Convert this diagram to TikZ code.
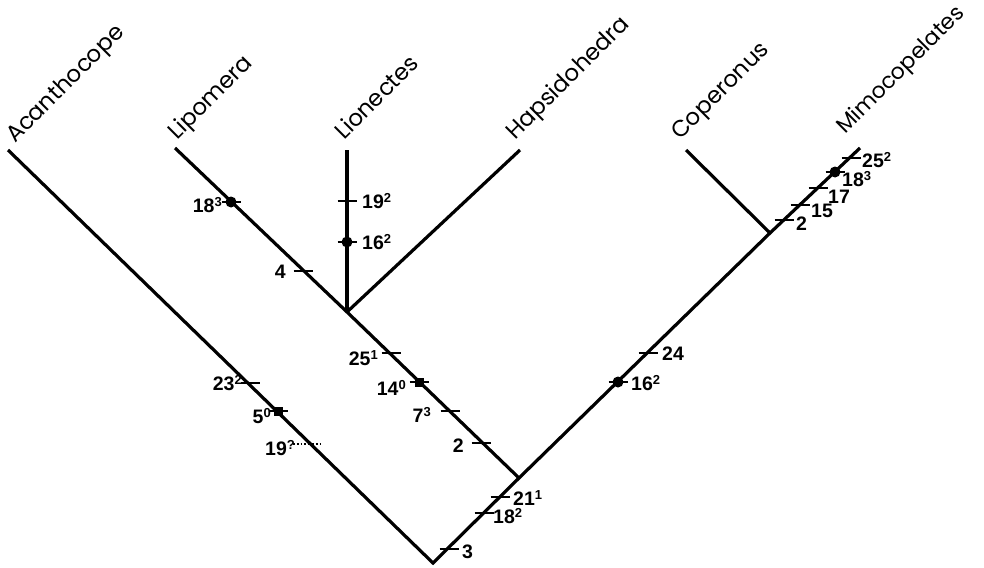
\documentclass[tikz,border=0pt]{standalone}
\usepackage{fontspec}
\setmainfont{Liberation Sans}
\newfontfamily\taxfont{Poppins}
\newcommand\sps[1]{\raisebox{5.5pt}{\fontsize{13}{13}\selectfont #1}}
\begin{document}
\begin{tikzpicture}[x=1pt,y=-1pt,
  branch/.style={line width=3.2pt},
  tickmark/.style={line width=1.8pt},
  taxon/.style={font=\taxfont\fontsize{23}{23}\selectfont,rotate=45,anchor=base west,inner sep=0pt},
  chr/.style={font=\bfseries\fontsize{19.5}{19.5}\selectfont,inner sep=0pt},
  sqmark/.style={fill=black,minimum size=9pt,inner sep=0pt,draw=none},
  dotmark/.style={circle,fill=black,minimum size=11pt,inner sep=0pt,draw=none}]
\useasboundingbox (0,0) rectangle (984,567);
% tree nodes
\coordinate (root) at (433,563);
\coordinate (n1) at (519,478);
\coordinate (n2) at (347,312);
\coordinate (n3) at (770,233);
\coordinate (aca) at (8,150);
\coordinate (lip) at (175,148);
\coordinate (lio) at (347,150);
\coordinate (hap) at (520,150);
\coordinate (cop) at (686,150);
\coordinate (mim) at (860,148);
% branches
\draw[branch] (aca) -- (root) -- (n1) -- (n3) -- (mim);
\draw[branch] (n1) -- (n2) -- (lip);
\draw[branch] (n2) -- (lio);
\draw[branch] (n2) -- (hap);
\draw[branch] (n3) -- (cop);
% taxon labels
\node[taxon] (tAca) at (15,144) {Acanthocope};
\node[taxon] (tLip) at (177,141) {Lipomera};
\node[taxon] (tLio) at (344,141) {Lionectes};
\node[taxon] (tHap) at (515,141) {Hapsidohedra};
\node[taxon] (tCop) at (680,141) {Coperonus};
\node[taxon,font=\taxfont\fontsize{22}{22}\selectfont] (tMim) at (845,135) {Mimocopelates};
% tick centres
\coordinate (c23) at (250,383);
\coordinate (c5) at (278,411);
\coordinate (c19a) at (308,444);
\coordinate (c18a) at (231,202);
\coordinate (c4) at (303,271);
\coordinate (c19b) at (347,201);
\coordinate (c16a) at (347,242);
\coordinate (c25a) at (391,353);
\coordinate (c14) at (419,382);
\coordinate (c7) at (450,411);
\coordinate (c2a) at (481,443);
\coordinate (c3) at (449,549);
\coordinate (c18b) at (484,513);
\coordinate (c21) at (500,497);
\coordinate (c16b) at (618,382);
\coordinate (c24) at (648,353);
\coordinate (c2b) at (784,220);
\coordinate (c15) at (800,205);
\coordinate (c17) at (818,188);
\coordinate (c18c) at (835,172);
\coordinate (c25b) at (851,158);
% ticks
\foreach \c in {c23,c5,c18a,c4,c19b,c16a,c25a,c14,c7,c2a,c3,c18b,c21,c16b,c24,c2b,c15,c17,c18c,c25b}
  \draw[tickmark] ([xshift=-9.5pt]\c) -- ([xshift=9.5pt]\c);
\draw[line width=1.8pt,dotted] ([xshift=-15pt]c19a) -- ([xshift=15pt]c19a);
% markers
\node[sqmark] (m5) at (c5) {};
\node[sqmark] (m14) at (c14) {};
\node[dotmark] (m18a) at (c18a) {};
\node[dotmark] (m16a) at (c16a) {};
\node[dotmark] (m16b) at (c16b) {};
\node[dotmark] (m18c) at (c18c) {};
% character labels
\node[chr,anchor=base east] (l23) at (242,390) {23\sps{2}};
\node[chr,anchor=base east] (l5) at (271,423) {5\sps{0}};
\node[chr,anchor=base east] (l19a) at (295,455) {19\sps{?}};
\node[chr,anchor=base east] (l18a) at (222,212) {18\sps{3}};
\node[chr,anchor=base east] (l4) at (286,278) {4};
\node[chr,anchor=base west] (l19b) at (362,208) {19\sps{2}};
\node[chr,anchor=base west] (l16a) at (362,249) {16\sps{2}};
\node[chr,anchor=base east] (l25a) at (378,365) {25\sps{1}};
\node[chr,anchor=base east] (l14) at (406,395) {14\sps{0}};
\node[chr,anchor=base east] (l7) at (431,422) {7\sps{3}};
\node[chr,anchor=base east] (l2a) at (464,452) {2};
\node[chr,anchor=base west] (l3) at (462,558) {3};
\node[chr,anchor=base west] (l18b) at (493,523) {18\sps{2}};
\node[chr,anchor=base west] (l21) at (513,505) {21\sps{1}};
\node[chr,anchor=base west] (l16b) at (631,390) {16\sps{2}};
\node[chr,anchor=base west] (l24) at (662,360) {24};
\node[chr,anchor=base west] (l2b) at (796,230) {2};
\node[chr,anchor=base west] (l15) at (811,217) {15};
\node[chr,anchor=base west] (l17) at (828,203) {17};
\node[chr,anchor=base west] (l18c) at (842,186) {18\sps{3}};
\node[chr,anchor=base west] (l25b) at (862,167) {25\sps{2}};
\end{tikzpicture}
\end{document}
